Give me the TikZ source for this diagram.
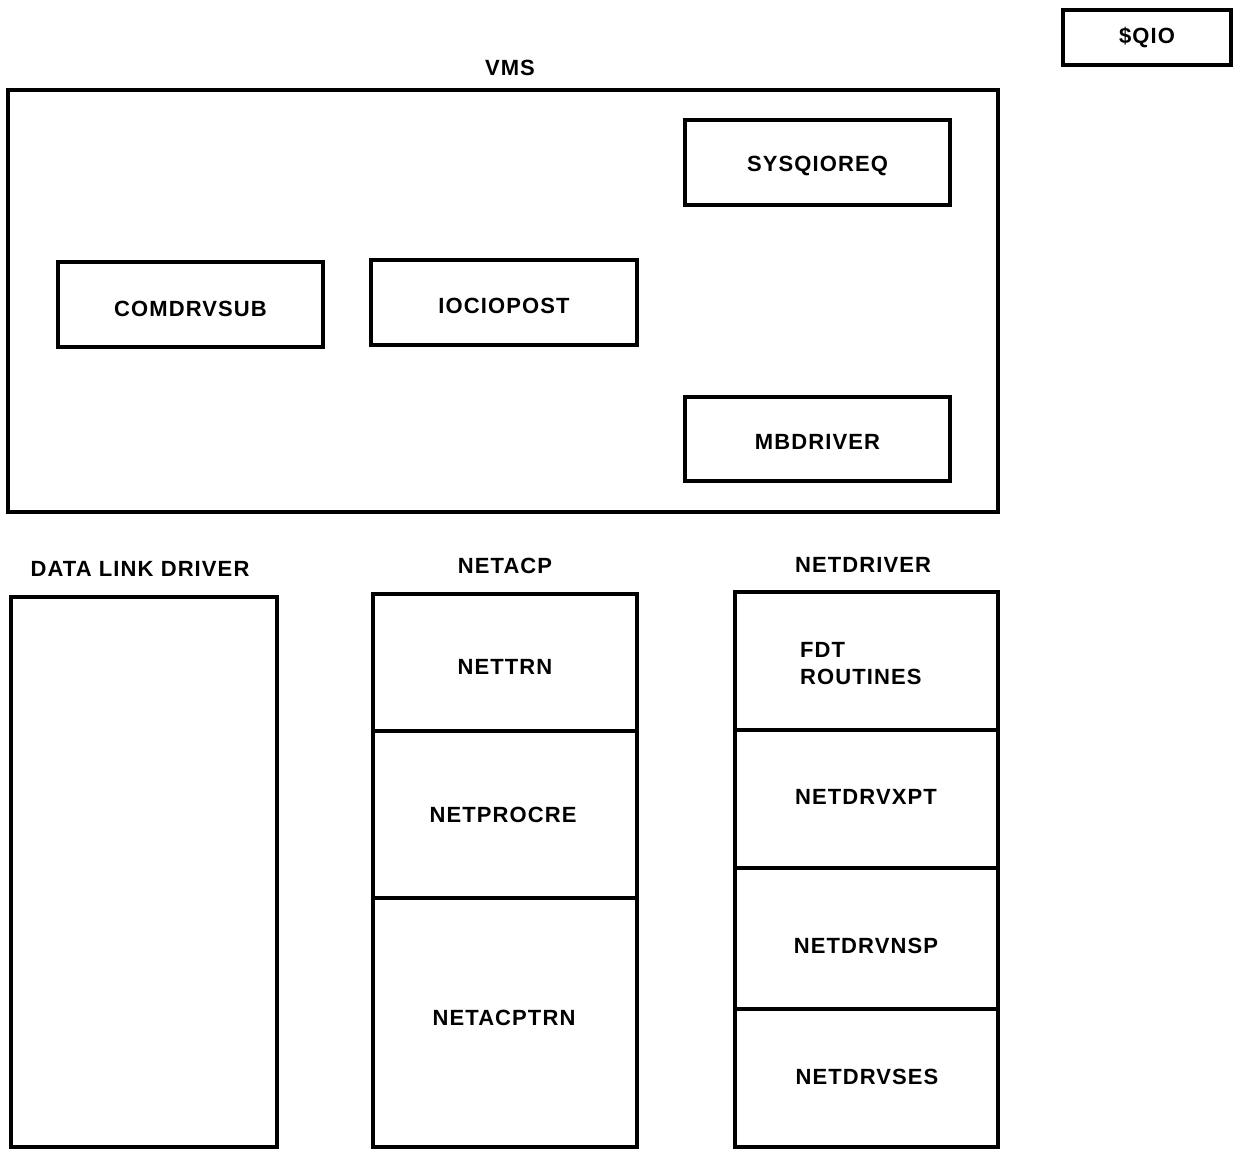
\documentclass[tikz,border=0pt]{standalone}
\usepackage{fontspec}
\setmainfont{Liberation Sans}[LetterSpace=5]
\begin{document}
\begin{tikzpicture}[x=1pt,y=-1pt,
  box/.style={draw,line width=3.5pt,anchor=north west,inner sep=0pt,outer sep=0pt},
  lbl/.style={font=\bfseries\fontsize{22}{27}\selectfont,inner sep=0pt}]
\useasboundingbox (0,0) rectangle (1236,1150);
% top
\node[box,minimum width=168,minimum height=55] (qio) at (1063,10) {};
\node[lbl] (qiot) at (qio.center) {\$QIO};
\node[lbl] (vmsl) at (510,68) {VMS};
\node[box,minimum width=990,minimum height=422] (vms) at (8,90) {};
\node[box,minimum width=265,minimum height=85] (sys) at (685,120) {};
\node[lbl] at ([yshift=-3pt]sys.center) {SYSQIOREQ};
\node[box,minimum width=265,minimum height=85] (com) at (58,262) {};
\node[lbl] at ([yshift=-4pt]com.center) {COMDRVSUB};
\node[box,minimum width=266,minimum height=85] (ioc) at (371,260) {};
\node[lbl] at ([yshift=-3pt]ioc.center) {IOCIOPOST};
\node[box,minimum width=265,minimum height=84] (mbd) at (685,397) {};
\node[lbl] at ([yshift=-3pt]mbd.center) {MBDRIVER};
% bottom
\node[lbl] (dll) at (140,569) {DATA LINK DRIVER};
\node[box,minimum width=266,minimum height=550] (dl) at (11,597) {};
\node[lbl] (acpl) at (505,566) {NETACP};
\node[box,minimum width=264,minimum height=137] (a1) at (373,594) {};
\node[box,minimum width=264,minimum height=167] (a2) at (373,731) {};
\node[box,minimum width=264,minimum height=249] (a3) at (373,898) {};
\node[lbl] at (505,667) {NETTRN};
\node[lbl] at (503,815) {NETPROCRE};
\node[lbl] at (504,1018) {NETACPTRN};
\node[lbl] (drvl) at (863,565) {NETDRIVER};
\node[box,minimum width=263,minimum height=138] (d1) at (735,592) {};
\node[box,minimum width=263,minimum height=138] (d2) at (735,730) {};
\node[box,minimum width=263,minimum height=141] (d3) at (735,868) {};
\node[box,minimum width=263,minimum height=138] (d4) at (735,1009) {};
\node[lbl,anchor=west,align=left] at (800,664) {FDT\\ROUTINES};
\node[lbl] at (866,797) {NETDRVXPT};
\node[lbl] at (866,946) {NETDRVNSP};
\node[lbl] at (867,1077) {NETDRVSES};
\end{tikzpicture}
\end{document}
